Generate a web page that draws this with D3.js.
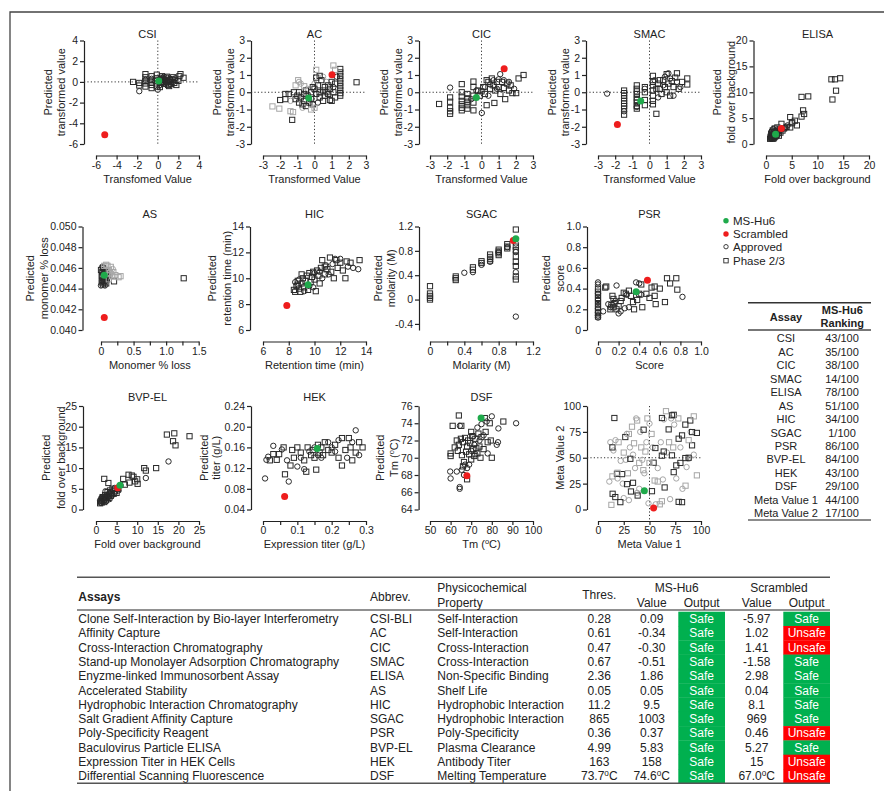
<!DOCTYPE html>
<html>
<head>
<meta charset="utf-8">
<script src="https://cdn.jsdelivr.net/npm/d3@7"></script>
<style>
body { margin: 0; background: #fff; }
svg text { font-family: "Liberation Sans", Arial, sans-serif; fill: #222; }
</style>
</head>
<body>
<div id="chart-area"></div>
<script>

// ---------- data ----------
// points are [x, y] ; a third value 1 marks the light-grey subset

let csiApproved = [[-1.8,-0.9],[0.0,-0.75],[-0.6,0.3],[0.4,0.25],[0.8,-0.2],[1.2,0.3],[0.6,0.5],[-1.2,0.2],[1.5,0.0],[0.2,-0.3],[-0.3,0.1],[1.0,0.1],[0.3,0.4],[1.7,0.35]];
let csiPhase = [[-2.4,0.0],[-1.8,-0.1],[-1.8,-0.35],[-1.2,0.75],[-1.2,0.45],[-1.2,0.1],[-1.2,-0.15],[-1.2,-0.45],[-0.6,0.55],[-0.6,0.15],[-0.6,-0.05],[-0.6,-0.3],[-0.6,-0.6],[-0.1,0.7],[-0.1,0.35],[-0.1,-0.15],[-0.1,-0.45],[0.2,0.2],[0.3,-0.1],[0.5,0.0],[0.5,0.3],[0.6,-0.2],[0.7,0.15],[0.8,0.4],[0.9,-0.05],[1.0,-0.3],[1.1,0.2],[1.2,0.0],[1.3,-0.2],[1.4,0.25],[1.5,0.45],[1.6,-0.1],[1.7,0.15],[1.8,-0.3],[2.0,0.1],[2.1,0.55],[2.2,0.75],[2.5,0.4],[0.4,0.55],[0.9,0.5],[1.1,-0.4],[0.2,-0.5]];
let csiHu6 = [0.09, 0.09];
let csiScr = [-5.15, -5.1];

let acApproved = [[-0.8,0.5,1],[-0.4,0.2,1],[0.2,-0.6],[0.7,0.6,1],[1.3,0.9],[-1.4,-0.5,1],[0.0,0.5,1],[-0.7,-0.9,1],[0.5,0.9,1],[1.1,0.3],[-0.9,0.6,1]];
let acPhase = [[-2.0,-0.45],[-1.7,-0.1],[-1.7,-0.4],[-1.5,-0.1],[-1.3,-1.6],[-1.2,0.0],[-1.1,-0.4],[-1.0,-0.2],[-0.9,0.0],[-0.9,-0.6],[-0.8,-0.3],[-0.7,-0.7],[-0.6,-0.1],[-0.6,-0.5],[-0.5,0.1],[-0.5,-0.8],[-0.4,-0.2],[-0.3,-0.6],[-0.2,0.0],[-0.2,-0.4],[-0.1,-0.7],[0.0,0.2],[0.1,-0.1],[0.1,0.85],[0.2,0.4],[0.3,-0.3],[0.3,0.0],[0.4,0.7],[0.5,0.1],[0.5,-0.5],[0.6,0.3],[0.6,-0.2],[0.7,0.0],[0.8,0.4],[0.8,-0.1],[0.9,0.2],[0.9,-0.45],[1.0,-0.5],[1.0,0.6],[1.1,0.0],[1.2,0.5],[1.2,-0.3],[1.5,1.35],[1.5,1.15],[1.5,0.95],[1.5,0.75],[1.5,0.55],[1.5,0.35],[1.5,0.15],[1.5,-0.05],[1.5,-0.2],[2.45,0.58],[0.3,0.95],[-0.1,0.3],
  [-2.45,-0.82,1],[-2.05,-0.95,1],[-1.4,-1.1,1],[-1.25,-1.15,1],[-0.95,0.7,1],[-1.1,0.4,1],[-0.2,-1.0,1],[0.1,1.3,1],[1.1,1.55,1],[1.2,1.3,1],[-0.6,0.35,1],[0.0,-0.9,1]];
let acHu6 = [-0.34, -0.34];
let acScr = [1.02, 1.02];

let cicApproved = [[-1.83,0.27],[0.02,-1.2],[1.09,1.05],[0.5,0.45],[0.9,0.2],[-0.3,0.1],[0.2,0.3],[1.3,0.7],[0.7,0.7],[1.6,0.6],[1.9,0.2],[-0.6,-0.4],[0.4,-0.2],[1.0,0.75]];
let cicPhase = [[-2.47,-0.68],[-1.83,-0.3],[-1.83,-0.55],[-1.83,-0.9],[-1.83,-1.1],[-1.83,-1.25],[-1.15,0.47],[-1.15,0.0],[-1.15,-0.25],[-1.15,-0.5],[-1.15,-0.7],[-1.15,-0.9],[-1.15,-1.05],[-0.82,-0.1],[-0.82,-0.35],[-0.82,-0.55],[-0.82,-0.75],[-0.82,-0.95],[-0.47,0.62],[-0.47,0.3],[-0.47,-0.2],[-0.47,-0.6],[-0.47,-1.05],[-0.2,0.1],[-0.1,-0.2],[0.1,0.3],[0.2,-0.1],[0.3,-0.75],[0.4,0.6],[0.5,0.2],[0.6,0.8],[0.7,0.4],[0.75,-0.62],[0.8,0.1],[0.9,0.6],[1.0,0.3],[1.1,-0.1],[1.2,0.6],[1.3,0.25],[1.38,-0.4],[1.5,0.5],[1.6,0.1],[1.7,0.4],[1.8,-0.05],[2.02,-0.05],[2.16,0.8],[2.45,1.0],[0.3,0.7],[0.0,0.05]];
let cicHu6 = [-0.3, -0.3];
let cicScr = [1.32, 1.36];

let smacApproved = [[-2.47,-0.08],[-1.48,-1.1],[-0.74,-0.85],[0.5,-0.3],[0.8,0.4],[1.1,1.1],[1.2,0.8],[1.4,-0.2],[1.6,0.6],[1.8,0.3],[0.3,0.7],[0.9,0.9],[-0.27,0.2]];
let smacPhase = [[-1.48,0.1],[-1.48,-0.05],[-1.48,-0.2],[-1.48,-0.35],[-1.48,-0.5],[-1.48,-0.65],[-1.48,-0.8],[-1.48,-0.95],[-1.48,-1.3],[-0.74,0.4],[-0.74,0.2],[-0.74,0.05],[-0.74,-0.1],[-0.74,-0.3],[-0.74,-0.45],[-0.74,-0.6],[-0.74,-0.8],[-0.74,-0.95],[-0.27,0.3],[-0.27,0.0],[-0.27,-0.45],[-0.27,-0.75],[0.2,0.95],[0.2,0.6],[0.2,0.4],[0.2,0.1],[0.2,-0.2],[0.2,-0.5],[0.2,-0.7],[0.4,-1.25],[0.5,0.5],[0.6,0.2],[0.7,-0.1],[0.8,0.7],[0.9,0.3],[1.0,0.0],[1.0,1.05],[1.1,0.5],[1.2,-0.2],[1.3,0.65],[1.4,0.3],[1.5,0.85],[1.6,1.1],[1.7,0.2],[2.2,0.8],[2.2,0.45],[0.6,0.7],[0.4,0.2],[1.9,0.6]];
let smacHu6 = [-0.51, -0.51];
let smacScr = [-1.87, -1.87];

let elisaApproved = [[1.0,1.1],[1.2,1.5],[1.5,1.3],[1.8,2.0],[2.2,2.2],[2.5,2.4],[3.0,2.8],[3.8,3.1],[4.2,3.6],[1.1,2.4],[0.9,1.8],[1.4,2.9],[2.0,1.4]];
let elisaPhase = [[0.8,1.0],[1.0,1.4],[1.0,2.0],[1.2,1.2],[1.3,2.6],[1.4,1.8],[1.5,1.1],[1.6,2.2],[1.7,3.0],[1.8,1.5],[2.0,2.5],[2.1,1.8],[2.2,3.2],[2.4,2.1],[2.6,2.8],[2.8,2.2],[3.0,3.9],[3.2,2.6],[3.5,3.0],[4.0,3.3],[4.7,3.2],[4.7,5.2],[5.0,4.0],[5.6,4.5],[6.0,3.6],[6.9,9.1],[8.2,9.2],[6.9,5.3],[7.2,6.5],[7.4,5.8],[12.9,8.6],[13.6,10.3],[12.7,12.5],[13.4,12.5],[14.4,12.7],[1.1,1.6],[0.9,1.2],[1.3,1.0],[2.5,1.6],[5.1,4.2],[1.2,2.3],[1.6,1.3]];
let elisaHu6 = [1.86, 1.86];
let elisaScr = [2.98, 2.98];

let asApproved = [[0.0,0.0443],[0.02,0.0461],[0.06,0.0443],[0.1,0.0457,1],[0.13,0.0452,1],[0.03,0.0447],[0.18,0.0459,1]];
let asPhase = [[0.01,0.0452],[0.02,0.0448],[0.02,0.0456],[0.03,0.0444],[0.03,0.0460],[0.04,0.0450],[0.05,0.0446],[0.05,0.0458],[0.06,0.0454],[0.06,0.0448],[0.07,0.0451],[0.08,0.0456],[0.08,0.0445],[0.09,0.0449],[0.02,0.0452],[0.04,0.0455],[0.1,0.0453],[0.2,0.0447],[1.27,0.0450],[0.01,0.0446],[0.0,0.0458],
  [0.1,0.0462,1],[0.12,0.0458,1],[0.14,0.0455,1],[0.15,0.0461,1],[0.17,0.0452,1],[0.19,0.0456,1],[0.22,0.0453,1],[0.27,0.0451,1],[0.12,0.0449,1],[0.08,0.0463,1],[0.05,0.0462,1],[0.3,0.0452,1]];
let asHu6 = [0.05, 0.0453];
let asScr = [0.05, 0.0412];

let hicApproved = [[8.5,9.7],[8.8,9.9],[9.2,9.0],[9.6,9.4],[10.0,10.4],[10.4,10.5],[10.9,11.0],[11.4,11.1],[11.6,11.5],[12.0,11.5],[12.6,10.9],[13.0,10.8],[13.4,10.7],[9.9,9.3],[10.6,10.0],[11.1,10.3]];
let hicPhase = [[8.4,9.1],[8.5,8.95],[8.6,9.4],[8.7,9.8],[8.8,9.2],[8.9,8.95],[9.0,9.6],[9.1,10.0],[9.2,9.3],[9.3,9.8],[9.4,10.2],[9.5,9.1],[9.6,10.4],[9.7,9.7],[9.8,10.1],[9.9,10.5],[10.0,9.9],[10.1,9.0],[10.2,10.6],[10.3,10.2],[10.4,9.6],[10.5,10.8],[10.6,11.4],[10.8,10.3],[11.0,10.7],[11.2,11.6],[11.3,10.5],[11.5,10.0],[11.7,11.4],[11.8,10.8],[12.0,11.2],[12.2,10.6],[12.4,10.0],[12.5,11.3],[12.8,11.2],[13.5,11.4],[9.0,10.3],[8.7,9.5],[10.8,10.9]];
let hicHu6 = [9.5, 9.5];
let hicScr = [7.85, 7.9];

let sgacApproved = [[0.4,0.44],[0.5,0.45],[0.6,0.57],[0.7,0.62],[0.8,0.78],[0.9,0.86],[1.0,0.92],[1.0,0.78],[1.0,0.45],[1.0,-0.28]];
let sgacPhase = [[0,0.22],[0,0.1],[0,0.06],[0,0.03],[0,0.0],[0.3,0.38],[0.3,0.35],[0.3,0.32],[0.5,0.53],[0.5,0.49],[0.6,0.63],[0.6,0.6],[0.7,0.74],[0.7,0.7],[0.7,0.67],[0.7,0.64],[0.8,0.82],[0.8,0.79],[0.8,0.76],[0.8,0.73],[0.9,0.91],[0.9,0.87],[0.9,0.84],[1.0,1.15],[1.0,0.87],[1.0,0.81],[1.0,0.71],[1.0,0.62],[1.0,0.55],[1.0,0.38],[1.0,0.33]];
let sgacHu6 = [1.0, 1.0];
let sgacScr = [0.97, 0.97];

let psrApproved = [[0,0.46],[0,0.44],[0,0.35],[0,0.29],[0,0.21],[0,0.17],[0,0.14],[0,0.12],[0.05,0.18],[0.1,0.25],[0.18,0.43],[0.2,0.16],[0.22,0.18],[0.26,0.21],[0.3,0.22],[0.28,0.34],[0.37,0.46],[0.4,0.45],[0.42,0.34],[0.82,0.32],[0.12,0.22],[0.17,0.28]];
let psrPhase = [[0,0.4],[0,0.37],[0,0.34],[0,0.31],[0,0.28],[0,0.25],[0,0.22],[0,0.19],[0,0.16],[0,0.13],[0.07,0.41],[0.08,0.42],[0.12,0.2],[0.13,0.24],[0.14,0.33],[0.15,0.3],[0.15,0.22],[0.16,0.26],[0.18,0.2],[0.2,0.23],[0.22,0.28],[0.23,0.31],[0.25,0.36],[0.27,0.35],[0.3,0.38],[0.32,0.33],[0.34,0.27],[0.35,0.2],[0.38,0.29],[0.4,0.35],[0.42,0.44],[0.43,0.22],[0.47,0.35],[0.5,0.31],[0.52,0.41],[0.55,0.33],[0.56,0.25],[0.6,0.4],[0.65,0.27],[0.67,0.5],[0.7,0.45],[0.76,0.5],[0.77,0.39],[0.55,0.42]];
let psrHu6 = [0.37, 0.37];
let psrScr = [0.48, 0.48];

let bvpApproved = [[1.0,2.2],[1.2,1.6],[1.5,2.0],[1.7,2.6],[2.0,2.3],[2.2,3.0],[2.5,2.0],[2.7,3.4],[3.0,3.0],[3.3,2.5],[3.6,4.2],[4.0,3.5],[4.5,5.2],[5.5,4.6],[6.0,5.8],[12.1,7.6],[17.6,11.6],[1.3,2.8],[2.3,4.4],[4.2,4.7]];
let bvpPhase = [[1.0,1.5],[1.2,2.0],[1.4,1.7],[1.5,2.5],[1.6,3.0],[1.8,2.2],[2.0,1.8],[2.0,2.8],[2.0,7.4],[2.2,3.5],[2.4,2.4],[2.6,3.0],[2.8,4.2],[3.0,2.8],[3.2,3.6],[3.4,4.6],[3.6,3.3],[3.8,4.0],[4.0,5.0],[4.3,3.8],[4.6,4.4],[5.0,4.0],[5.3,5.0],[6.6,7.4],[7.0,6.0],[7.9,8.4],[8.7,8.2],[9.1,7.9],[9.5,6.8],[10.1,6.2],[10.0,7.3],[11.7,10.0],[12.1,9.4],[14.6,10.0],[17.2,18.1],[19.0,18.4],[18.7,16.5],[19.3,15.5],[22.7,17.7],[3.0,6.4],[8.1,6.5]];
let bvpHu6 = [5.83, 5.83];
let bvpScr = [5.27, 5.27];

let hekApproved = [[0.006,0.1],[0.01,0.136],[0.015,0.142],[0.03,0.163],[0.055,0.156],[0.075,0.094],[0.07,0.135],[0.1,0.123],[0.11,0.14],[0.12,0.118],[0.135,0.152],[0.15,0.16],[0.17,0.14],[0.19,0.17],[0.2,0.16],[0.22,0.174],[0.245,0.14],[0.27,0.193],[0.28,0.145],[0.26,0.17],[0.21,0.152],[0.16,0.145]];
let hekPhase = [[0.03,0.147],[0.04,0.136],[0.047,0.147],[0.06,0.16],[0.064,0.108],[0.08,0.125],[0.085,0.155],[0.09,0.14],[0.1,0.16],[0.11,0.15],[0.12,0.135],[0.126,0.113],[0.13,0.16],[0.14,0.145],[0.145,0.155],[0.15,0.14],[0.155,0.117],[0.16,0.165],[0.165,0.15],[0.17,0.16],[0.175,0.145],[0.18,0.17],[0.19,0.155],[0.2,0.15],[0.21,0.165],[0.22,0.14],[0.23,0.125],[0.23,0.178],[0.25,0.178],[0.24,0.155],[0.255,0.16],[0.27,0.15],[0.28,0.17],[0.29,0.16],[0.26,0.135],[0.02,0.135]];
let hekHu6 = [0.158, 0.158];
let hekScr = [0.063, 0.065];

let dsfApproved = [[59.8,68.4],[60,67.6],[63,68.4],[64.4,66.6],[64.4,66.4],[65.4,68.6],[64.5,73.7],[66.5,68],[67,69.2],[68,68.8],[69,69.2],[70,70.8],[71,72.5],[72,70.4],[73,73.5],[74,72],[75,73.9],[76,72.6],[77.5,74.2],[80,74.8],[83.2,73.4],[82.4,71.5],[83,71.8],[91.8,74],[78,70.5],[71.5,71.5]];
let dsfPhase = [[60,70.5],[60,70.2],[61,73.7],[64,74.9],[65.2,73.7],[62,71.2],[63,72],[63.5,70.8],[64,71.5],[65,72.2],[65.5,70.3],[66,71.8],[66.5,69.5],[67,72.3],[67.5,70.7],[68,71.3],[68,67.5],[68.5,72],[69,70.4],[69.5,71.7],[70,69.8],[70.5,72.5],[71,71],[71.5,70.2],[72,72.2],[72.5,71.1],[73,70.5],[73.5,72.8],[74,71.3],[74.5,70],[75,72.4],[76,71],[76.6,74.6],[77,73],[78,71.8],[79,74],[79.5,72],[80,70],[85.6,74.2],[70,73],[66,69]];
let dsfHu6 = [74.8, 74.6];
let dsfScr = [67.9, 67.9];

let metaApproved = [[11,27,1],[12,65,1],[15,57,1],[17,67,1],[19,30,1],[22,47,1],[24,25,1],[28,73,1],[27,48,1],[30,9,1],[31,60,1],[34,53,1],[36,40,1],[37,88,1],[40,20,1],[41,75,1],[43,48,1],[45,35,1],[47,65,1],[49,6,1],[50,83,1],[53,60,1],[56,5,1],[58,40,1],[61,65,1],[63,29,1],[64,87,1],[67,55,1],[70,10,1],[71,88,1],[74,82,1],[76,30,1],[80,60,1],[82,20,1],[86,41,1],[88,49,1],[90,75,1],[93,53,1],[38,16,1],[25,11,1]];
let metaPhase = [[15.9,88.4],[26.5,70],[44.3,77.1],[62.1,88.4],[71.8,91],[73.5,91.5],[84.8,82],[89.6,86],[78.3,68.4],[81.6,71.6],[91.3,62],[68.6,77.4],[91.3,74.8],[96,74],[31.4,49],[54,45.2],[62,52],[63.8,56],[76,42.6],[73.5,36.1],[84.8,49.7],[55.7,59.4],[71.8,52.3],[80,45],[18.4,34.5],[23.3,34.2],[28.2,24.5],[32,17.4],[21.7,7.1],[14.2,15.2],[16.8,12],[52.4,17.7],[64.7,21.3],[78.3,7.4],[81.6,7.1],[38.5,13.5],[34,25.8],[88,50],[14,60],
  [13,4.5,1],[14,32,1],[19,35.5,1],[20,65,1],[25,55,1],[29,35,1],[33,80,1],[35,64,1],[38,86,1],[40,45,1],[42,60,1],[46,56,1],[48,88,1],[52,73,1],[55,28,1],[58,27,1],[60,5,1],[62,8,1],[66,95,1],[69,65,1],[73,60,1],[78,88,1],[85,23,1],[88,67,1],[93,90,1],[96,33,1],[30,73,1],[44,38,1],[50,45,1]];
let metaHu6 = [45, 18];
let metaScr = [54, 1.5];

// ranking table
let rankAssays = ["CSI","AC","CIC","SMAC","ELISA","AS","HIC","SGAC","PSR","BVP-EL","HEK","DSF","Meta Value 1","Meta Value 2"];
let rankValues = ["43/100","35/100","38/100","14/100","78/100","51/100","34/100","1/100","86/100","84/100","43/100","29/100","44/100","17/100"];

// assay table
let assayNames = ["Clone Self-Interaction by Bio-layer Interferometry","Affinity Capture","Cross-Interaction Chromatography","Stand-up Monolayer Adsorption Chromatography","Enyzme-linked Immunosorbent Assay","Accelerated Stability","Hydrophobic Interaction Chromatography","Salt Gradient Affinity Capture","Poly-Specificity Reagent","Baculovirus Particle ELISA","Expression Titer in HEK Cells","Differential Scanning Fluorescence"];
let assayAbbrev = ["CSI-BLI","AC","CIC","SMAC","ELISA","AS","HIC","SGAC","PSR","BVP-EL","HEK","DSF"];
let assayProperty = ["Self-Interaction","Self-Interaction","Cross-Interaction","Cross-Interaction","Non-Specific Binding","Shelf Life","Hydrophobic Interaction","Hydrophobic Interaction","Poly-Specificity","Plasma Clearance","Antibody Titer","Melting Temperature"];
let assayThres = ["0.28","0.61","0.47","0.67","2.36","0.05","11.2","865","0.36","4.99","163","73.7°C"];
let hu6Values = ["0.09","-0.34","-0.30","-0.51","1.86","0.05","9.5","1003","0.37","5.83","158","74.6°C"];
let hu6Output = ["Safe","Safe","Safe","Safe","Safe","Safe","Safe","Safe","Safe","Safe","Safe","Safe"];
let scrValues = ["-5.97","1.02","1.41","-1.58","2.98","0.04","8.1","969","0.46","5.27","15","67.0°C"];
let scrOutput = ["Safe","Unsafe","Unsafe","Safe","Safe","Safe","Safe","Safe","Unsafe","Safe","Unsafe","Unsafe"];

let legendLabels = ["MS-Hu6","Scrambled","Approved","Phase 2/3"];

// ---------- layout ----------
let W = 884, H = 791;
let DARK = "#2a2a2a", LIGHT = "#a6a6a6", GREEN = "#1faa4b", RED = "#ee1d1d";
let PW = 103, PH = 103.5;
let colLeft = [96, 263, 430, 598, 766];
let rowTop = [40.5, 226.5, 406];
let titleY = [37.5, 218, 400.5];
let SQ = 5.2, CR = 2.7;

let svg = d3.select("#chart-area").append("svg")
    .attr("width", W)
    .attr("height", H);

// frame
svg.append("path")
    .attr("d", "M10," + H + "V12H" + W)
    .attr("fill", "none")
    .attr("stroke", "#444")
    .attr("stroke-width", 1.3);

function fmt(dec) {
    return d => (d === 0 ? "0" : d.toFixed(dec));
}
function every(step, dec) {
    // labels only on multiples of step, blank minor ticks
    return d => (Math.abs(d / step - Math.round(d / step)) < 1e-6 ? (d === 0 ? "0" : d.toFixed(dec)) : "");
}

// text with a raised small "o" for degrees
function richText(t, str) {
    let parts = str.split("°");
    t.append("tspan").text(parts[0]);
    for (let i = 1; i < parts.length; i++) {
        t.append("tspan").attr("font-size", "0.68em").attr("dy", -4).text("o");
        t.append("tspan").attr("dy", 4).text(parts[i]);
    }
}

let panels = [
    {title: "CSI", col: 0, row: 0, xd: [-6, 4], yd: [-6, 4], xt: [-6,-4,-2,0,2,4], yt: [-6,-4,-2,0,2,4], xf: fmt(0), yf: fmt(0),
     xl: "Transfomed Value", yl: ["Predicted", "transformed value"], ylOff: [-36, -23], ref: [0, 0],
     approved: csiApproved, phase: csiPhase, hu6: csiHu6, scr: csiScr},
    {title: "AC", col: 1, row: 0, xd: [-3, 3], yd: [-3, 3], xt: d3.range(-3, 4), yt: d3.range(-3, 4), xf: fmt(0), yf: fmt(0),
     xl: "Transformed Value", yl: ["Predicted", "transformed value"], ylOff: [-34.5, -21], ref: [0, 0],
     approved: acApproved, phase: acPhase, hu6: acHu6, scr: acScr},
    {title: "CIC", col: 2, row: 0, xd: [-3, 3], yd: [-3, 3], xt: d3.range(-3, 4), yt: d3.range(-3, 4), xf: fmt(0), yf: fmt(0),
     xl: "Transformed Value", yl: ["Predicted", "transformed value"], ylOff: [-35, -21], ref: [0, 0], gapY: 11,
     approved: cicApproved, phase: cicPhase, hu6: cicHu6, scr: cicScr},
    {title: "SMAC", col: 3, row: 0, xd: [-3, 3], yd: [-3, 3], xt: d3.range(-3, 4), yt: d3.range(-3, 4), xf: fmt(0), yf: fmt(0),
     xl: "Transformed Value", yl: ["Predicted", "transformed value"], ylOff: [-34.5, -21], ref: [0, 0],
     approved: smacApproved, phase: smacPhase, hu6: smacHu6, scr: smacScr},
    {title: "ELISA", col: 4, row: 0, xd: [0, 20], yd: [0, 20], xt: [0,5,10,15,20], yt: [0,5,10,15,20], xf: fmt(0), yf: fmt(0),
     xl: "Fold over background", yl: ["Predicted", "fold over background"], ylOff: [-37, -23], gapY: 12.5,
     approved: elisaApproved, phase: elisaPhase, hu6: elisaHu6, scr: elisaScr},

    {title: "AS", col: 0, row: 1, xd: [0, 1.5], yd: [0.040, 0.050], xr: [101, 198.7], xt: [0,0.25,0.5,0.75,1,1.25,1.5], yt: [0.040,0.042,0.044,0.046,0.048,0.050],
     xf: every(0.5, 1), yf: d => d.toFixed(3), xl: "Monomer % loss", yl: ["Predicted", "monomer % loss"], ylOff: [-53, -39], gapY: 18.5,
     approved: asApproved, phase: asPhase, hu6: asHu6, scr: asScr},
    {title: "HIC", col: 1, row: 1, xd: [6, 14], yd: [6, 14], xt: [6,8,10,12,14], yt: [6,8,10,12,14], xf: fmt(0), yf: fmt(0),
     xl: "Retention time (min)", yl: ["Predicted", "retention time (min)"], ylOff: [-38, -23], gapY: 13,
     approved: hicApproved, phase: hicPhase, hu6: hicHu6, scr: hicScr},
    {title: "SGAC", col: 2, row: 1, xd: [0, 1.2], yd: [-0.5, 1.2], xt: [0,0.2,0.4,0.6,0.8,1.0,1.2], yt: [-0.4,0,0.4,0.8,1.2],
     xf: every(0.4, 1), yf: fmt(1), xl: "Molarity (M)", yl: ["Predicted", "molarity (M)"], ylOff: [-41.5, -28], gapY: 11,
     approved: sgacApproved, phase: sgacPhase, hu6: sgacHu6, scr: sgacScr},
    {title: "PSR", col: 3, row: 1, xd: [0, 1], yd: [0, 1], xt: [0,0.2,0.4,0.6,0.8,1.0], yt: [0,0.2,0.4,0.6,0.8,1.0], xf: fmt(1), yf: fmt(1),
     xl: "Score", yl: ["Predicted", "score"], ylOff: [-41, -27.5], gapY: 11,
     approved: psrApproved, phase: psrPhase, hu6: psrHu6, scr: psrScr},

    {title: "BVP-EL", col: 0, row: 2, xd: [0, 25], yd: [0, 25], xt: [0,5,10,15,20,25], yt: [0,5,10,15,20,25], xf: fmt(0), yf: fmt(0),
     xl: "Fold over background", yl: ["Predicted", "fold over background"], ylOff: [-37.5, -22.5], gapY: 13,
     approved: bvpApproved, phase: bvpPhase, hu6: bvpHu6, scr: bvpScr},
    {title: "HEK", col: 1, row: 2, xd: [0, 0.3], yd: [0.04, 0.24], xt: [0,0.05,0.1,0.15,0.2,0.25,0.3], yt: [0.04,0.08,0.12,0.16,0.20,0.24],
     xf: every(0.1, 1), yf: d => d.toFixed(2), xl: "Expression titer (g/L)", yl: ["Predicted", "titer (g/L)"], ylOff: [-47.5, -35],
     approved: hekApproved, phase: hekPhase, hu6: hekHu6, scr: hekScr},
    {title: "DSF", col: 2, row: 2, xd: [50, 100], yd: [64, 76], xt: [50,60,70,80,90,100], yt: [64,66,68,70,72,74,76], xf: fmt(0), yf: fmt(0),
     xl: "Tm (°C)", yl: ["Predicted", "Tm (°C)"], ylOff: [-39, -25], gapY: 11.4,
     approved: dsfApproved, phase: dsfPhase, hu6: dsfHu6, scr: dsfScr},
    {title: "", col: 3, row: 2, xd: [0, 100], yd: [0, 100], xt: [0,25,50,75,100], yt: [0,25,50,75,100], xf: fmt(0), yf: fmt(0),
     xl: "Meta Value 1", yl: ["Meta Value 2"], ylOff: [-27.5], ref: [50, 50], refFull: true, gapY: 11,
     approved: metaApproved, phase: metaPhase, hu6: metaHu6, scr: metaScr}
];

panels.forEach(drawPanel);

function drawPanel(p) {
    let xr = p.xr || [colLeft[p.col], colLeft[p.col] + PW];
    let top = rowTop[p.row], bottom = top + PH;
    let x = d3.scaleLinear().domain(p.xd).range(xr);
    let y = d3.scaleLinear().domain(p.yd).range([bottom, top]);
    let axisYpos = xr[0] - (p.gapY || 12);
    let axisXpos = bottom + 11.5;
    let cx = (xr[0] + xr[1]) / 2;

    let g = svg.append("g");

    // axes
    let xg = g.append("g")
        .attr("transform", "translate(0," + axisXpos + ")")
        .call(d3.axisBottom(x).tickValues(p.xt).tickFormat(p.xf).tickSize(4).tickSizeOuter(0).tickPadding(2));
    let yg = g.append("g")
        .attr("transform", "translate(" + axisYpos + ",0)")
        .call(d3.axisLeft(y).tickValues(p.yt).tickFormat(p.yf).tickSize(4).tickSizeOuter(0).tickPadding(2));
    [xg, yg].forEach(a => {
        a.attr("font-size", 10.5).attr("font-family", null);
        a.selectAll("path, line").attr("stroke", "#222").attr("stroke-width", 1.2);
        a.selectAll("text").attr("fill", "#222");
    });

    // dotted reference lines
    if (p.ref) {
        g.append("line")
            .attr("x1", x(p.ref[0])).attr("x2", x(p.ref[0]))
            .attr("y1", top).attr("y2", p.refFull ? axisXpos : bottom)
            .attr("stroke", "#333").attr("stroke-dasharray", "1.2,2.2");
        g.append("line")
            .attr("x1", axisYpos).attr("x2", xr[1])
            .attr("y1", y(p.ref[1])).attr("y2", y(p.ref[1]))
            .attr("stroke", "#333").attr("stroke-dasharray", "1.2,2.2");
    }

    // titles and labels
    g.append("text").attr("x", cx).attr("y", titleY[p.row])
        .attr("text-anchor", "middle").attr("font-size", 11).text(p.title);
    let xt = g.append("text").attr("x", cx).attr("y", axisXpos + 27)
        .attr("text-anchor", "middle").attr("font-size", 11);
    richText(xt, p.xl);
    p.yl.forEach((l, i) => {
        let t = g.append("text")
            .attr("transform", "translate(" + (axisYpos + p.ylOff[i] + 4) + "," + ((top + bottom) / 2) + ") rotate(-90)")
            .attr("text-anchor", "middle").attr("font-size", 11);
        richText(t, l);
    });

    // marks
    g.selectAll(".appr").data(p.approved).enter()
        .append("circle")
        .attr("cx", d => x(d[0])).attr("cy", d => y(d[1])).attr("r", CR)
        .attr("fill", "none").attr("stroke", d => (d[2] ? LIGHT : DARK)).attr("stroke-width", 1);
    g.selectAll(".ph").data(p.phase).enter()
        .append("rect")
        .attr("x", d => x(d[0]) - SQ / 2).attr("y", d => y(d[1]) - SQ / 2)
        .attr("width", SQ).attr("height", SQ)
        .attr("fill", "none").attr("stroke", d => (d[2] ? LIGHT : DARK)).attr("stroke-width", 1);
    g.append("circle").attr("cx", x(p.scr[0])).attr("cy", y(p.scr[1])).attr("r", 3.5).attr("fill", RED);
    g.append("circle").attr("cx", x(p.hu6[0])).attr("cy", y(p.hu6[1])).attr("r", 3.5).attr("fill", GREEN);
}

// ---------- legend ----------
let legendY = [220.7, 234, 246.7, 260.7];
let leg = svg.append("g");
legendLabels.forEach((lab, i) => {
    let ly = legendY[i];
    if (i === 0) leg.append("circle").attr("cx", 726).attr("cy", ly).attr("r", 2.7).attr("fill", GREEN);
    if (i === 1) leg.append("circle").attr("cx", 726).attr("cy", ly).attr("r", 2.7).attr("fill", RED);
    if (i === 2) leg.append("circle").attr("cx", 726).attr("cy", ly).attr("r", 2.2).attr("fill", "none").attr("stroke", DARK).attr("stroke-width", 0.9);
    if (i === 3) leg.append("rect").attr("x", 723.8).attr("y", ly - 2.2).attr("width", 4.4).attr("height", 4.4).attr("fill", "none").attr("stroke", DARK).attr("stroke-width", 0.9);
    leg.append("text").attr("x", 733).attr("y", ly + 4).attr("font-size", 11.5).text(lab);
});

// ---------- ranking table ----------
let rk = svg.append("g").attr("font-size", 11);
rk.append("line").attr("x1", 748).attr("x2", 871).attr("y1", 302.7).attr("y2", 302.7).attr("stroke", "#333").attr("stroke-width", 1.4);
rk.append("text").attr("x", 786).attr("y", 320.7).attr("text-anchor", "middle").attr("font-weight", "bold").text("Assay");
rk.append("text").attr("x", 842.3).attr("y", 314).attr("text-anchor", "middle").attr("font-weight", "bold").text("MS-Hu6");
rk.append("text").attr("x", 842.3).attr("y", 327.3).attr("text-anchor", "middle").attr("font-weight", "bold").text("Ranking");
rk.append("line").attr("x1", 748).attr("x2", 871).attr("y1", 330).attr("y2", 330).attr("stroke", "#777").attr("stroke-width", 2);
rankAssays.forEach((a, i) => {
    let ty = 338.3 + i * 13.46 + 4;
    rk.append("text").attr("x", 786).attr("y", ty).attr("text-anchor", "middle").text(a);
    rk.append("text").attr("x", 842).attr("y", ty).attr("text-anchor", "middle").text(rankValues[i]);
});
rk.append("line").attr("x1", 748).attr("x2", 871).attr("y1", 520).attr("y2", 520).attr("stroke", "#666").attr("stroke-width", 1.6);

// ---------- assay table ----------
let tb = svg.append("g").attr("font-size", 12);
let rowH = 14.3, rowTop0 = 611.7;
tb.append("line").attr("x1", 77).attr("x2", 830).attr("y1", 577.3).attr("y2", 577.3).attr("stroke", "#555").attr("stroke-width", 1.5);
tb.append("text").attr("x", 78.3).attr("y", 601).attr("font-weight", "bold").text("Assays");
tb.append("text").attr("x", 370).attr("y", 601).text("Abbrev.");
tb.append("text").attr("x", 437.3).attr("y", 591.5).text("Physicochemical");
tb.append("text").attr("x", 437.3).attr("y", 606.5).text("Property");
tb.append("text").attr("x", 599.3).attr("y", 599).attr("text-anchor", "middle").text("Thres.");
tb.append("text").attr("x", 676.7).attr("y", 591.5).attr("text-anchor", "middle").text("MS-Hu6");
tb.append("text").attr("x", 651.7).attr("y", 606.5).attr("text-anchor", "middle").text("Value");
tb.append("text").attr("x", 701.7).attr("y", 606.5).attr("text-anchor", "middle").text("Output");
tb.append("text").attr("x", 779).attr("y", 591.5).attr("text-anchor", "middle").text("Scrambled");
tb.append("text").attr("x", 756.7).attr("y", 606.5).attr("text-anchor", "middle").text("Value");
tb.append("text").attr("x", 806.7).attr("y", 606.5).attr("text-anchor", "middle").text("Output");
tb.append("line").attr("x1", 77).attr("x2", 830).attr("y1", 610).attr("y2", 610).attr("stroke", "#222").attr("stroke-width", 1);

assayNames.forEach((nm, i) => {
    let top = rowTop0 + i * rowH, ty = top + rowH / 2 + 4.2;
    tb.append("rect").attr("x", 678.3).attr("y", top).attr("width", 46.7).attr("height", rowH + 0.3)
        .attr("fill", hu6Output[i] === "Safe" ? "#00b04f" : "#ff0000");
    tb.append("rect").attr("x", 783.3).attr("y", top).attr("width", 46.7).attr("height", rowH + 0.3)
        .attr("fill", scrOutput[i] === "Safe" ? "#00b04f" : "#ff0000");
    tb.append("text").attr("x", 78.3).attr("y", ty).text(nm);
    tb.append("text").attr("x", 370).attr("y", ty).text(assayAbbrev[i]);
    tb.append("text").attr("x", 437.3).attr("y", ty).text(assayProperty[i]);
    richText(tb.append("text").attr("x", 599.3).attr("y", ty).attr("text-anchor", "middle"), assayThres[i]);
    richText(tb.append("text").attr("x", 651.7).attr("y", ty).attr("text-anchor", "middle"), hu6Values[i]);
    tb.append("text").attr("x", 701.7).attr("y", ty).attr("text-anchor", "middle").style("fill", "#fff").text(hu6Output[i]);
    richText(tb.append("text").attr("x", 756.7).attr("y", ty).attr("text-anchor", "middle"), scrValues[i]);
    tb.append("text").attr("x", 806.7).attr("y", ty).attr("text-anchor", "middle").style("fill", "#fff").text(scrOutput[i]);
});
tb.append("line").attr("x1", 77).attr("x2", 830).attr("y1", 783.3).attr("y2", 783.3).attr("stroke", "#555").attr("stroke-width", 1.5);

</script>
</body>
</html>
